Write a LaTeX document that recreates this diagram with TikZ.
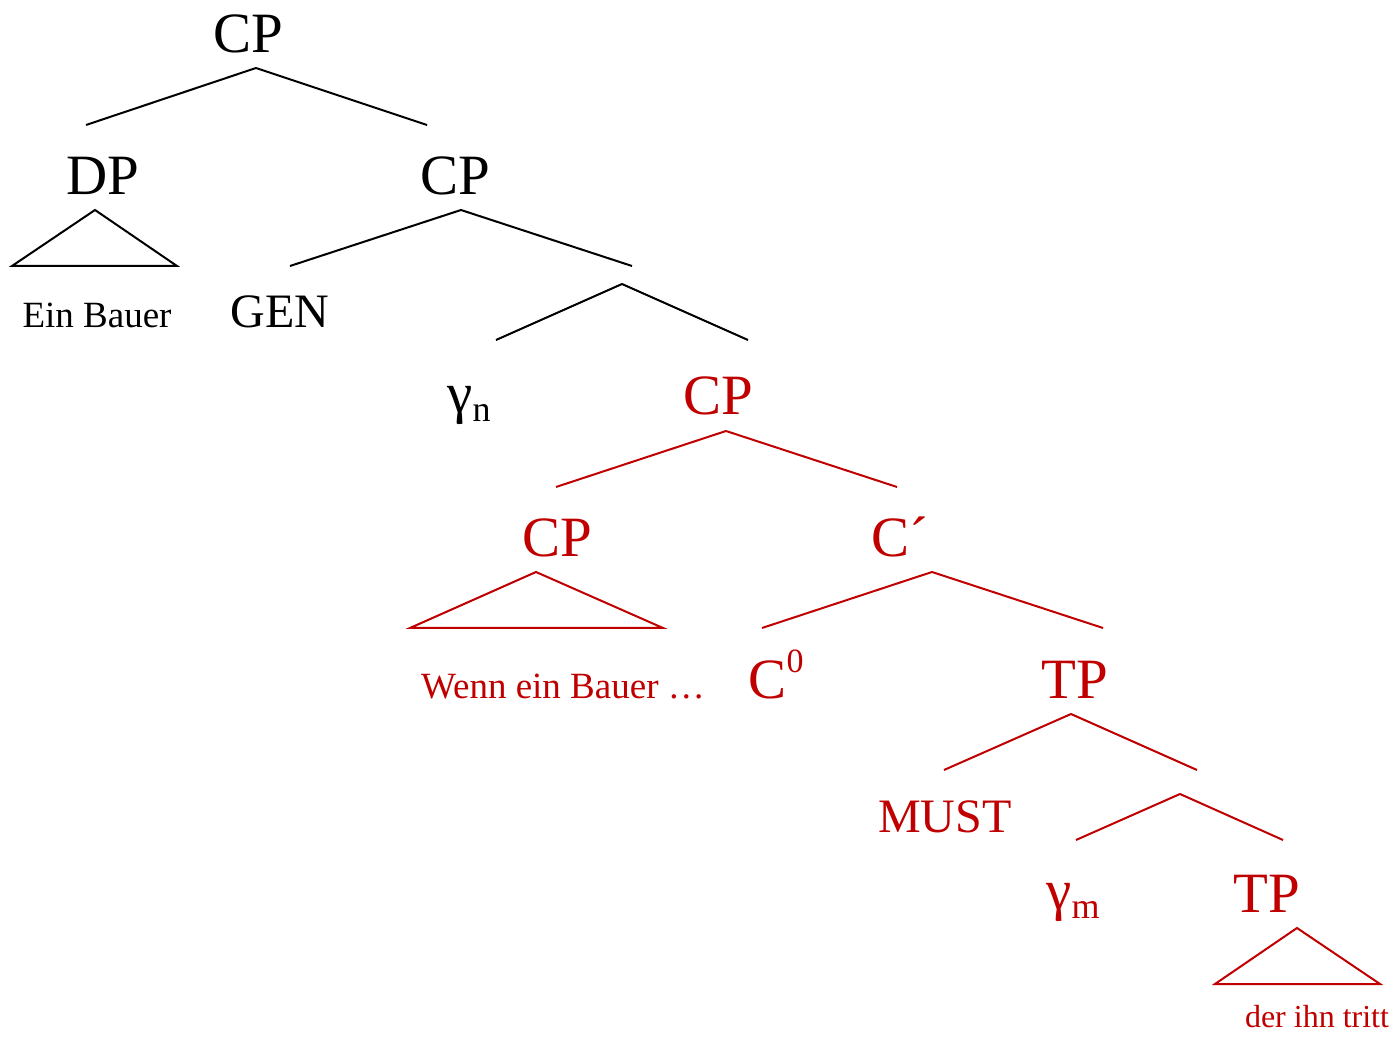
\documentclass[tikz,border=0pt]{standalone}
\usepackage{fontspec}
\setmainfont{Liberation Serif}
\definecolor{treered}{RGB}{192,0,0}
\tikzset{
  big/.style={font=\fontsize{28.5}{30}\selectfont},
  mid/.style={font=\fontsize{24}{26}\selectfont},
  small/.style={font=\fontsize{18.5}{20}\selectfont},
  tiny/.style={font=\fontsize{16}{18}\selectfont}
}
\newcommand{\gsub}[1]{\raisebox{-4.5pt}{\fontsize{18}{18}\selectfont #1}}
\begin{document}
\begin{tikzpicture}[x=0.5pt,y=-0.5pt,line width=1pt]

        \useasboundingbox (0,0) rectangle (1399,1037);

        \begin{scope}[every node/.style={inner sep=0pt,anchor=base}]
          \node[big]   (1)  at (248,53)  {CP};
          \node[big]   (2)  at (103,195) {DP};
          \node[big]   (3)  at (455,195) {CP};
          \node[small] (4)  at (97,328)  {Ein Bauer};
          \node[mid]   (5)  at (280,328) {GEN};
          \node[big]   (6)  at (469,413) {γ\gsub{n}};
          \begin{scope}[treered]
            \node[big]   (7)  at (718,415)  {CP};
            \node[big]   (8)  at (557,557)  {CP};
            \node[big]   (9)  at (900,557)  {C´};
            \node[small] (10) at (563,698)  {Wenn ein Bauer …};
            \node[big]   (11) at (776,698)  {C\raisebox{13pt}{\fontsize{17}{17}\selectfont 0}};
            \node[big]   (12) at (1075,698) {TP};
            \node[mid]   (13) at (945,832)  {MUST};
            \node[big]   (14) at (1073,909) {γ\gsub{m}};
            \node[big]   (15) at (1267,912) {TP};
            \node[tiny]  (16) at (1317,1027) {der ihn tritt};
          \end{scope}
        \end{scope}

        % branch points
        \coordinate (a1) at (256,68);  \coordinate (b1) at (86,125);   \coordinate (c1) at (427,125);
        \coordinate (a2) at (95,210);  \coordinate (b2) at (12,266);   \coordinate (c2) at (177,266);
        \coordinate (a3) at (461,210); \coordinate (b3) at (290,266);  \coordinate (c3) at (632,266);
        \coordinate (a4) at (622,284); \coordinate (b4) at (496,340);  \coordinate (c4) at (748,340);
        \coordinate (a5) at (726,431); \coordinate (b5) at (556,487);  \coordinate (c5) at (897,487);
        \coordinate (a6) at (536,572); \coordinate (b6) at (410,628);  \coordinate (c6) at (663,628);
        \coordinate (a7) at (932,572); \coordinate (b7) at (762,628);  \coordinate (c7) at (1103,628);
        \coordinate (a8) at (1071,714); \coordinate (b8) at (944,770); \coordinate (c8) at (1197,770);
        \coordinate (a9) at (1180,794); \coordinate (b9) at (1076,840); \coordinate (c9) at (1283,840);
        \coordinate (a10) at (1297,928); \coordinate (b10) at (1215,984); \coordinate (c10) at (1380,984);

        \begin{scope}[every edge/.style={draw}]
          \path (a1) edge (b1) (a1) edge (c1);
          \path (a3) edge (b3) (a3) edge (c3);
          \path (a4) edge (b4) (a4) edge (c4);
          \draw (a2) -- (b2) -- (c2) -- cycle;
        \end{scope}

        \begin{scope}[treered,every edge/.style={draw}]
          \path (a5) edge (b5) (a5) edge (c5);
          \path (a7) edge (b7) (a7) edge (c7);
          \path (a8) edge (b8) (a8) edge (c8);
          \path (a9) edge (b9) (a9) edge (c9);
          \draw (a6) -- (b6) -- (c6) -- cycle;
          \draw (a10) -- (b10) -- (c10) -- cycle;
        \end{scope}

      \end{tikzpicture}
\end{document}
